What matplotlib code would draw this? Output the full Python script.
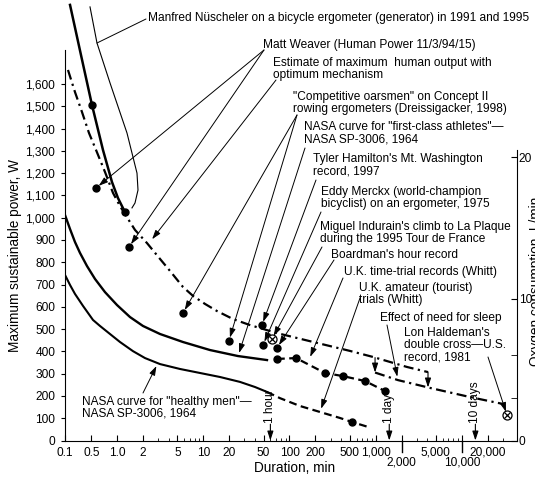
import numpy as np
import matplotlib
matplotlib.use("Agg")
import matplotlib.pyplot as plt
import matplotlib.transforms as mtransforms

plt.rcParams["font.family"] = ["Liberation Sans", "DejaVu Sans"]

W, H = 535, 480

# --- data (duration in min, power in W) ---
nus_x = [0.136, 0.266, 0.509, 0.683, 0.869, 1.02, 1.23]
nus_y = [1955, 1730, 1506, 1304, 1160, 1088, 1025]
nus_dots_x = [0.509, 1.23]
nus_dots_y = [1506, 1025]
# bracket drawn beside the Nüscheler curve
brk_x = [0.462, 0.582, 0.824, 1.298, 1.696, 1.742, 1.608, 1.484]
brk_y = [1946, 1784, 1605, 1380, 1200, 1124, 1066, 1044]

est_x = [0.12, 0.184, 0.283, 0.434, 0.567, 0.721, 0.893, 1.077, 1.23, 1.608, 2.216,
         3.137, 4.099, 5.80, 7.58, 10.44, 14.4, 22.1, 34.8, 71.6, 208.6, 504, 932, 2313, 4057]
est_y = [1663, 1564, 1474, 1380, 1304, 1205, 1111, 1052, 1016, 945, 886,
         815, 761, 689, 649, 613, 581, 545, 518, 482, 438, 402, 375, 330, 307]
sleep_x = [985, 1818, 4279, 12460, 30110]
sleep_y = [305, 271, 236, 195, 164]
sleep_drop_x = [985, 4057]
sleep_drop_top = [372, 307]
sleep_drop_bot = [305, 238]

fc_x = [0.1, 0.136, 0.184, 0.250, 0.384, 0.552, 0.721, 0.994, 1.407, 1.991, 3.137,
        5.80, 11.94, 25.25, 54.8]
fc_y = [1012, 949, 891, 842, 783, 725, 666, 608, 554, 514, 478,
        442, 406, 379, 361]

hm_x = [0.1, 0.136, 0.184, 0.301, 0.523, 0.631, 0.824, 1.077, 1.524, 2.101, 3.137,
        5.355, 9.14, 15.6, 26.6, 39.8, 54.8]
hm_y = [743, 698, 658, 604, 541, 514, 478, 442, 401, 370, 343,
        321, 303, 285, 263, 240, 218]
hm_dash_x = [54.8, 77.6, 132, 226, 386, 532, 815]
hm_dash_y = [218, 190, 155, 128, 101, 83, 61]

tt_x = [71.6, 119, 258, 418, 752, 1285]
tt_y = [366, 370, 303, 289, 267, 222]

weaver_x = [0.567, 1.369]
weaver_y = [1133, 868]
oars_x = [5.80, 19.8]
oars_y = [572, 447]
tyler = (47.9, 518)
merckx = (49.3, 429)
indurain = (62.7, 456)
boardman = (71.6, 415)
amateur_dot = (532, 83)
haldeman = (33520, 114)

time_marks = [60, 1440, 14400]
time_names = ["1 hour", "1 day", "10 days"]

xticks = [0.1, 0.5, 1, 2, 5, 10, 20, 50, 100, 200, 500, 1000, 2000, 5000, 10000, 20000]
xlabels = ["0.1", "0.5", "1.0", "2", "5", "10", "20", "50", "100", "200", "500",
           "1,000", "", "5,000", "", "20,000"]
low_ticks = [2000, 10000]
low_labels = ["2,000", "10,000"]
xminor = [3, 4, 6, 7, 8, 9, 30, 40, 60, 70, 80, 90, 300, 400, 600, 700, 800, 900,
          3000, 4000, 6000, 7000, 8000, 9000, 30000]
yticks = list(range(0, 1700, 100))
o2_ticks = [0, 10, 20]
o2_minor = [3, 6]


def fpos(x, y):
    return x / W, 1 - y / H


# log axis whose stretch below 0.5 min is squeezed, as in the original
U0 = np.log10(0.5)
K = 0.437


def fwd(x):
    u = np.log10(np.clip(x, 1e-6, None))
    return np.where(u < U0, U0 + (u - U0) * K, u)


def inv(v):
    u = np.where(v < U0, U0 + (v - U0) / K, v)
    return 10 ** u


fig = plt.figure(figsize=(5.35, 4.8), dpi=100)
ax = fig.add_axes([65 / W, 1 - 440.5 / H, 451.7 / W, 440.5 / H])
ax.set_xscale("function", functions=(fwd, inv))
ax.set_xlim(0.1, 43450)
ax.set_ylim(0, 1977)

k = "black"
dashdot = (4.5, 2, 1, 2)

ax.plot(nus_x, nus_y, color=k, lw=1.8)
ax.plot(brk_x, brk_y, color=k, lw=0.8)
ax.plot(est_x, est_y, color=k, lw=1.6, dashes=dashdot)
ax.plot(sleep_x, sleep_y, color=k, lw=1.6, dashes=dashdot)
ax.plot(fc_x, fc_y, color=k, lw=1.7)
ax.plot(hm_x, hm_y, color=k, lw=1.5)
ax.plot(hm_dash_x, hm_dash_y, color=k, lw=1.6, dashes=(3.5, 2))
ax.plot(tt_x, tt_y, color=k, lw=1.6, dashes=(3.5, 2))

dot = dict(color=k, marker="o", ms=5, ls="none")
ax.plot(nus_dots_x, nus_dots_y, **dot)
ax.plot(weaver_x, weaver_y, **dot)
ax.plot(oars_x, oars_y, **dot)
ax.plot(tt_x, tt_y, **dot)
for p in [tyler, merckx, boardman, amateur_dot]:
    ax.plot(*p, **dot)
for p in [indurain, haldeman]:
    ax.plot(*p, marker="o", ms=6.5, mfc="white", mec=k, mew=0.9, ls="none")
    ax.plot(*p, marker="x", ms=4.2, color=k, mew=0.9, ls="none")

head = "-|>,head_length=0.55,head_width=0.18"
arrowprops = dict(arrowstyle=head, lw=0.7, color=k, shrinkA=0, shrinkB=2.5,
                  mutation_scale=10)


def arrow(start, xy):
    ax.annotate("", xy=xy, xycoords="data", xytext=fpos(*start),
                textcoords="figure fraction", arrowprops=arrowprops,
                annotation_clip=False)


def label(x, y, s):
    fig.text(x / W, 1 - (y - 6) / H, s, ha="left", va="top",
             fontsize=8.6, linespacing=1.0)


# effect of sleep: drops from the upper to the lower curve
for xv, top, bot in zip(sleep_drop_x, sleep_drop_top, sleep_drop_bot):
    ax.annotate("", xy=(xv, bot), xytext=(xv, top),
                arrowprops=dict(arrowstyle=head, lw=0.8, color=k, shrinkA=0,
                                shrinkB=0, mutation_scale=10))

label(148, 18, "Manfred Nüscheler on a bicycle ergometer (generator) in 1991 and 1995")
ax.annotate("", xy=(brk_x[1], brk_y[1]), xytext=fpos(146, 19), textcoords="figure fraction",
            arrowprops=dict(arrowstyle="-", lw=0.7, color=k, shrinkA=0, shrinkB=0),
            annotation_clip=False)

label(263, 45, "Matt Weaver (Human Power 11/3/94/15)")
for xy in zip(weaver_x, weaver_y):
    arrow((264, 50), xy)

label(273, 63, "Estimate of maximum  human output with\noptimum mechanism")
arrow((276, 80), (2.40, 891))

label(293, 97, "\"Competitive oarsmen\" on Concept II\nrowing ergometers (Dreissigacker, 1998)")
for xy in zip(oars_x, oars_y):
    arrow((297, 115), xy)

label(304, 127, "NASA curve for \"first-class athletes\"—\nNASA SP-3006, 1964")
arrow((305, 148), (25.25, 378))

label(313, 159, "Tyler Hamilton's Mt. Washington\nrecord, 1997")
arrow((316, 180), tyler)

label(321, 192, "Eddy Merckx (world-champion\nbicyclist) on an ergometer, 1975")
arrow((321, 212), merckx)

label(320, 227, "Miguel Indurain's climb to La Plaque\nduring the 1995 Tour de France")
arrow((322, 247), indurain)

label(331, 255, "Boardman's hour record")
arrow((334, 260), boardman)

label(344, 272, "U.K. time-trial records (Whitt)")
arrow((343, 278), (168, 361))

label(359, 288, "U.K. amateur (tourist)\ntrials (Whitt)")
arrow((360, 298), (226, 128))

label(380, 318, "Effect of need for sleep")
arrow((387, 325), (1818, 271))

label(404, 333, "Lon Haldeman's\ndouble cross—U.S.\nrecord, 1981")
arrow((488, 357), haldeman)

label(82, 402, "NASA curve for \"healthy men\"—\nNASA SP-3006, 1964")
arrow((143, 393), (2.97, 348))

# time markers along the bottom
blend = mtransforms.blended_transform_factory(ax.transData, ax.transAxes)
for val, txt in zip(time_marks, time_names):
    ax.annotate("", xy=(val, 0), xycoords=("data", "axes fraction"),
                xytext=(val, 0.037), textcoords=("data", "axes fraction"),
                arrowprops=dict(arrowstyle=head, lw=0.8, color=k, shrinkA=0,
                                shrinkB=0, mutation_scale=10))
    ax.text(val, 0.039, txt, transform=blend, rotation=90, ha="center",
            va="bottom", fontsize=8.6)

# axes styling
ax.spines["top"].set_visible(False)
ax.spines["right"].set_visible(False)
ax.spines["left"].set_bounds(0, 1753)

ax.set_xticks(xticks)
ax.set_xticklabels(xlabels)
ax.set_xticks(xminor, minor=True)
ax.set_xticklabels([], minor=True)
ax.tick_params(axis="x", which="major", direction="in", length=4, pad=4.5, labelsize=8.6)
ax.tick_params(axis="x", which="minor", direction="in", length=2.5)
for v, s in zip(low_ticks, low_labels):
    ax.plot([v, v], [0, -0.027], transform=blend, color=k, lw=1.0, clip_on=False)
    ax.text(v, -0.05, s, transform=blend, ha="center", va="center", fontsize=8.6)

ax.set_yticks(yticks)
ax.set_yticklabels([f"{v:,}" for v in yticks])
ax.tick_params(axis="y", direction="out", length=3, pad=4, labelsize=8.6)

ax2 = ax.twinx()
ax2.set_ylim(0, 31.09)
for s in ["top", "left", "bottom"]:
    ax2.spines[s].set_visible(False)
ax2.spines["right"].set_bounds(0, 20.5)
ax2.set_yticks(o2_ticks)
ax2.set_yticks(o2_minor, minor=True)
ax2.tick_params(axis="y", which="major", direction="in", length=4, pad=1.5, labelsize=8.6)
ax2.tick_params(axis="y", which="minor", direction="in", length=4)

fig.text(15 / W, 1 - 255 / H, "Maximum sustainable power, W", rotation=90,
         ha="center", va="center", fontsize=9.8)
fig.text(295 / W, 1 - 468 / H, "Duration, min", ha="center", va="center", fontsize=9.8)
fig.text(529 / W, 1 - 281 / H, "Oxygen consumption, L/min", rotation=90,
         ha="left", va="center", fontsize=9.8)

fig.savefig("out.png", dpi=100)
